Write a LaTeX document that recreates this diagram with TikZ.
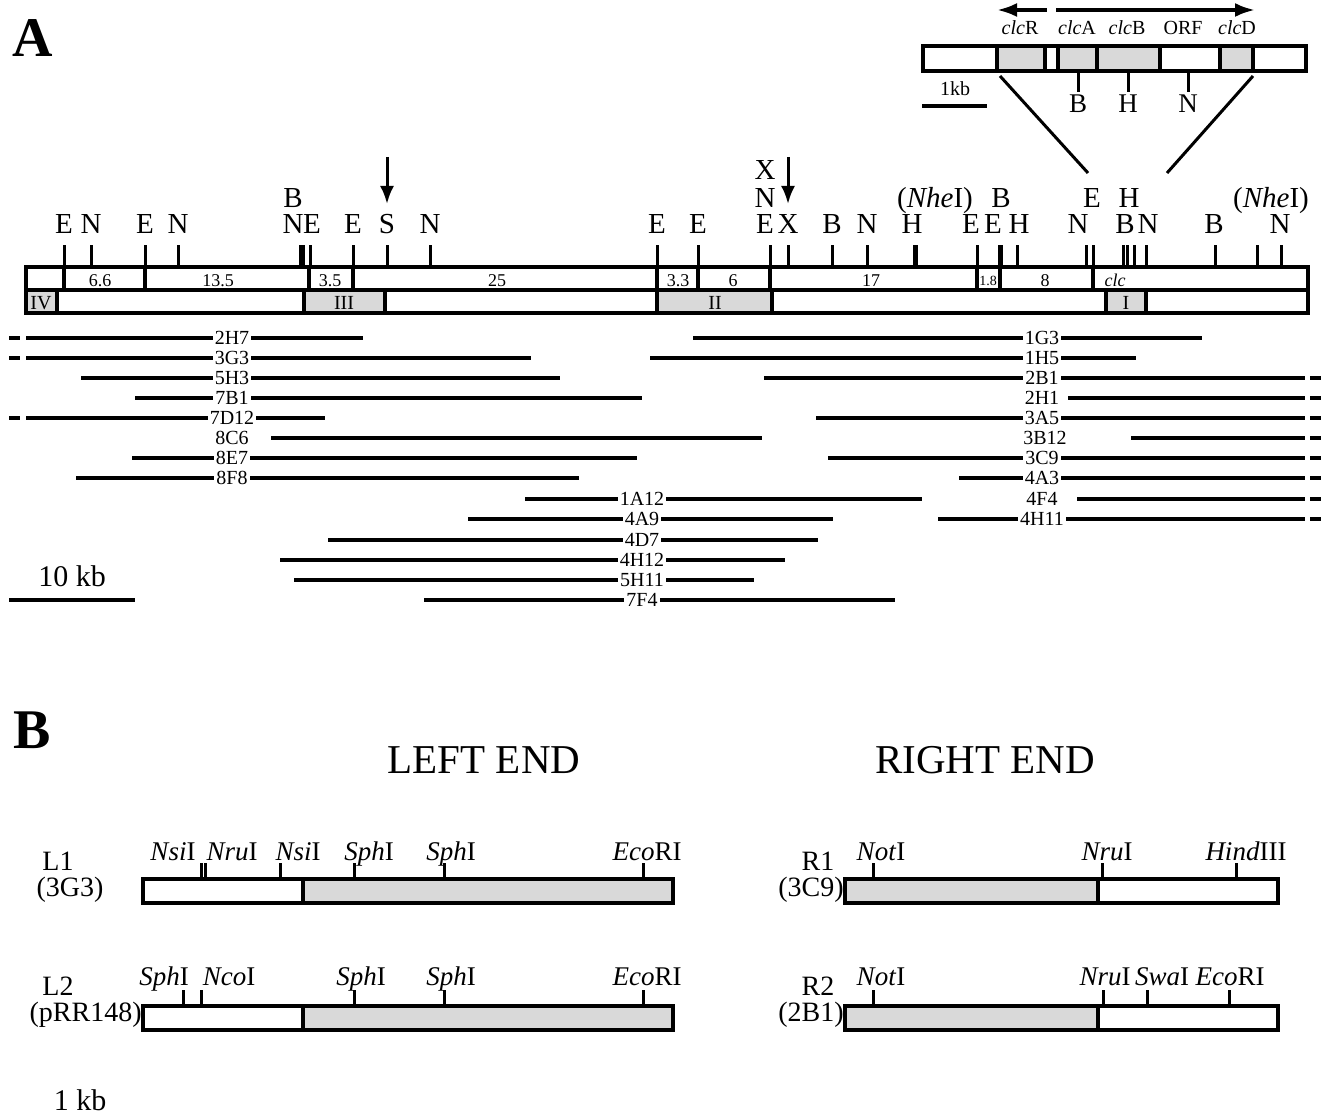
\documentclass[tikz,border=0pt]{standalone}
\usepackage{fontspec}
\setmainfont{Liberation Serif}
\usetikzlibrary{arrows.meta}
\newcommand{\fsz}[1]{\fontsize{#1}{#1}\selectfont}
\tikzset{
  mapline/.style={line width=1.6pt},
  siteline/.style={line width=1.5pt},
  cloneline/.style={line width=1.6pt},
  shaded/.style={fill=gray!30},
  enz/.style={font=\fsz{14.5}, anchor=base, inner sep=0pt},
  frag/.style={font=\fsz{9}, anchor=base, inner sep=0pt},
  regionlab/.style={font=\fsz{10}, anchor=base, inner sep=0pt},
  clonelab/.style={font=\fsz{10}, fill=white, inner xsep=1pt, inner ysep=0pt},
  genelab/.style={font=\fsz{10}, anchor=base, inner sep=0pt},
  cutlab/.style={font=\fsz{13.5}, anchor=base, inner sep=0pt},
  pointer/.style={-{Latex[length=9pt,width=7pt]}, line width=1.5pt},
  panel/.style={font=\bfseries\fsz{28}, inner sep=0pt},
}
\begin{document}
\begin{tikzpicture}[x=0.5pt,y=-0.5pt]
    \useasboundingbox (0,0) rectangle (1331,1118);
    \node[panel] (pA) at (33,38) {A};
    \node[panel] (pB) at (32,730) {B};
    % inset: the clc region
    \fill[shaded] (997,46) rectangle (1045,71);
    \fill[shaded] (1058,46) rectangle (1160,71);
    \fill[shaded] (1220,46) rectangle (1253,71);
    \draw[mapline] (923,46) rectangle (1306,71);
    \foreach \x in {997,1045,1058,1097,1160,1220,1253}
        \draw[mapline] (\x,46) -- (\x,71);
    \foreach \x/\t in {1078/B,1128/H,1188/N} {
        \draw[siteline] (\x,71) -- (\x,92);
        \node[font=\fsz{13.5}, anchor=base, inner sep=0pt] (i\t) at (\x,113) {\t};
    }
    \foreach \x/\t in {1020/{\textit{clc}R},1077/{\textit{clc}A},1127/{\textit{clc}B},1183/ORF,1237/{\textit{clc}D}}
        \node[genelab] (g\x) at (\x,35) {\t};
    \draw[line width=1.8pt, {Latex[length=10pt,width=7pt]}-] (997,10) -- (1047,10);
    \draw[line width=1.8pt, -{Latex[length=10pt,width=7pt]}] (1056,10) -- (1255,10);
    \draw[mapline] (922,106) -- (987,106);
    \node[genelab] (kb1) at (955,96) {1kb};
    \draw[line width=1.5pt] (1000,76) -- (1088,173);
    \draw[line width=1.5pt] (1253,76) -- (1167,173);
    % main map
    \fill[shaded] (26,290) rectangle (57,313);
    \fill[shaded] (304,290) rectangle (385,313);
    \fill[shaded] (657,290) rectangle (772,313);
    \fill[shaded] (1106,290) rectangle (1146,313);
    \draw[mapline] (26,267) rectangle (1308,313);
    \draw[mapline] (26,290) -- (1308,290);
    \foreach \x in {64,145,309,353,657,698,770,977,1000,1093}
        \draw[mapline] (\x,267) -- (\x,290);
    \foreach \x in {57,304,385,657,772,1106,1146}
        \draw[mapline] (\x,290) -- (\x,313);
    \foreach \x in {64,91,145,178,300,303,310,353,387,430,657,698,770,788,832,867,914,916,977,999,1001,1017,1086,1093,1123,1127,1134,1146,1215,1257,1281}
        \draw[siteline] (\x,245) -- (\x,267);
    \foreach \x/\t in {64/E,91/N,145/E,178/N,293/N,312/E,353/E,387/S,430/N,657/E,698/E,765/E,788/X,832/B,867/N,912/H,971/E,993/E,1019/H,1078/N,1125/B,1148/N,1214/B,1280/N}
        \node[enz] (s\x) at (\x,234) {\t};
    \foreach \x/\t in {293/B,765/N,935/{(\textit{Nhe}I)},1001/B,1092/E,1129/H,1271/{(\textit{Nhe}I)}}
        \node[enz] (u\x) at (\x,207) {\t};
    \node[enz] (xtop) at (765,180) {X};
    \draw[pointer] (387,157) -- (387,204);
    \draw[pointer] (788,157) -- (788,204);
    \foreach \x/\t in {100/6.6,218/13.5,330/3.5,497/25,678/3.3,733/6,871/17,1045/8,1115/\textit{clc}}
        \node[frag] (f\x) at (\x,286) {\t};
    \node[frag, font=\fsz{7}] (f988) at (988,285) {1.8};
    \foreach \x/\t in {41/IV,344/III,715/II,1126/I}
        \node[regionlab] (r\t) at (\x,309) {\t};
    % clones
    \foreach \y/\a/\b/\t/\lx in {338/26/363/2H7/232, 358/26/531/3G3/232, 378/81/560/5H3/232,
        398/135/642/7B1/232, 418/26/325/7D12/232, 438/271/762/8C6/232, 458/132/637/8E7/232,
        478/76/579/8F8/232, 499/525/922/1A12/642, 519/468/833/4A9/642, 540/328/818/4D7/642,
        560/280/785/4H12/642, 580/294/754/5H11/642, 600/424/895/7F4/642,
        338/693/1202/1G3/1042, 358/650/1136/1H5/1042, 378/764/1305/2B1/1042,
        398/1068/1305/2H1/1042, 418/816/1305/3A5/1042, 438/1131/1305/3B12/1045,
        458/828/1305/3C9/1042, 478/959/1305/4A3/1042, 499/1077/1305/4F4/1042,
        519/938/1305/4H11/1042} {
        \draw[cloneline] (\a,\y) -- (\b,\y);
        \node[clonelab] (c\t) at (\lx,\y) {\t};
    }
    \foreach \y in {338,358,418}
        \draw[cloneline] (9,\y) -- (20,\y);
    \foreach \y in {378,398,418,438,458,478,499,519}
        \draw[cloneline] (1310,\y) -- (1321,\y);
    \draw[mapline] (9,600) -- (135,600);
    \node[cutlab, font=\fsz{15}] (kb10) at (72,586) {10 kb};
    % part B
    \node[font=\fsz{20.5}, anchor=base] (left) at (484,773) {LEFT END};
    \node[font=\fsz{20.5}, anchor=base] (right) at (985,773) {RIGHT END};
    \fill[shaded] (303,879) rectangle (673,903);
    \draw[mapline] (143,879) rectangle (673,903);
    \draw[mapline] (303,879) -- (303,903);
    \fill[shaded] (303,1006) rectangle (673,1030);
    \draw[mapline] (143,1006) rectangle (673,1030);
    \draw[mapline] (303,1006) -- (303,1030);
    \fill[shaded] (845,879) rectangle (1098,903);
    \draw[mapline] (845,879) rectangle (1278,903);
    \draw[mapline] (1098,879) -- (1098,903);
    \fill[shaded] (845,1006) rectangle (1098,1030);
    \draw[mapline] (845,1006) rectangle (1278,1030);
    \draw[mapline] (1098,1006) -- (1098,1030);
    \foreach \x in {201,205,280,354,444,643,873,1102,1236}
        \draw[siteline] (\x,863) -- (\x,879);
    \foreach \x in {183,201,354,444,643,873,1103,1147,1229}
        \draw[siteline] (\x,990) -- (\x,1006);
    \foreach \x/\t in {173/{\textit{Nsi}I},232/{\textit{Nru}I},298/{\textit{Nsi}I},369/{\textit{Sph}I},451/{\textit{Sph}I},647/{\textit{Eco}RI},
        881/{\textit{Not}I},1107/{\textit{Nru}I},1246/{\textit{Hind}III}}
        \node[cutlab] (a\x) at (\x,860) {\t};
    \foreach \x/\t in {164/{\textit{Sph}I},229/{\textit{Nco}I},361/{\textit{Sph}I},451/{\textit{Sph}I},647/{\textit{Eco}RI},
        881/{\textit{Not}I},1105/{\textit{Nru}I},1162/{\textit{Swa}I},1230/{\textit{Eco}RI}}
        \node[cutlab] (b\x) at (\x,985) {\t};
    \node[cutlab, font=\fsz{14}] (L1) at (58,870) {L1};
    \node[cutlab, font=\fsz{14}] (L1c) at (70,896) {(3G3)};
    \node[cutlab, font=\fsz{14}] (L2) at (58,995) {L2};
    \node[cutlab, font=\fsz{14}, anchor=base east] (L2c) at (142,1021) {(pRR148)};
    \node[cutlab, font=\fsz{14}] (R1) at (818,870) {R1};
    \node[cutlab, font=\fsz{14}, anchor=base east] (R1c) at (844,896) {(3C9)};
    \node[cutlab, font=\fsz{14}] (R2) at (818,995) {R2};
    \node[cutlab, font=\fsz{14}, anchor=base east] (R2c) at (844,1021) {(2B1)};
    \node[cutlab, font=\fsz{15}] (kb1b) at (80,1110) {1 kb};
\end{tikzpicture}
\end{document}
